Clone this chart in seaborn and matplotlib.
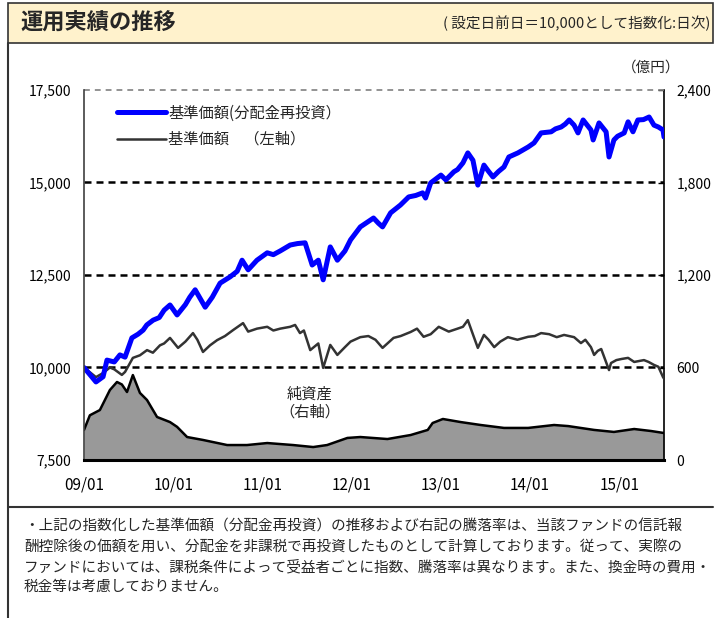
import matplotlib
matplotlib.use("Agg")
import matplotlib.pyplot as plt
import matplotlib.dates as mdates
from matplotlib.patches import Rectangle
from matplotlib.lines import Line2D
from matplotlib.ticker import FuncFormatter
import pandas as pd
import seaborn as sns

sns.set_theme(style="white")
plt.rcParams['font.family'] = ['Noto Sans CJK JP', 'DejaVu Sans']

# 基準価額(分配金再投資) - index, left axis
reinv_dates = [
    '2009-01-01', '2009-02-19', '2009-03-20', '2009-04-05', '2009-05-05', '2009-05-28',
    '2009-06-18', '2009-07-16', '2009-08-10', '2009-08-31', '2009-09-15', '2009-10-11',
    '2009-11-05', '2009-11-25', '2009-12-19', '2010-01-17', '2010-02-20', '2010-03-10',
    '2010-04-01', '2010-05-12', '2010-06-10', '2010-07-12', '2010-08-22', '2010-09-20',
    '2010-10-10', '2010-11-04', '2010-12-10', '2011-01-21', '2011-02-15', '2011-03-15',
    '2011-04-25', '2011-05-25', '2011-06-25', '2011-07-24', '2011-08-18', '2011-09-07',
    '2011-10-06', '2011-11-04', '2011-12-05', '2011-12-28', '2012-02-06', '2012-03-31',
    '2012-04-20', '2012-05-07', '2012-06-09', '2012-07-19', '2012-08-22', '2012-09-20',
    '2012-10-18', '2012-10-30', '2012-11-20', '2013-01-01', '2013-01-21', '2013-02-23',
    '2013-03-10', '2013-04-01', '2013-04-21', '2013-05-12', '2013-06-01', '2013-06-26',
    '2013-07-15', '2013-08-02', '2013-08-25', '2013-09-16', '2013-10-06', '2013-11-12',
    '2013-12-24', '2014-01-17', '2014-02-15', '2014-03-28', '2014-04-15', '2014-05-08',
    '2014-05-25', '2014-06-10', '2014-06-30', '2014-07-16', '2014-08-06', '2014-09-07',
    '2014-09-16', '2014-10-10', '2014-11-08', '2014-11-20', '2014-12-10', '2014-12-25',
    '2015-01-21', '2015-02-06', '2015-02-26', '2015-03-18', '2015-04-10', '2015-05-03',
    '2015-05-23', '2015-06-10', '2015-06-29', '2015-07-03',
]
reinv_values = [
    10000, 9610, 9750, 10200, 10150, 10340,
    10280, 10800, 10900, 11010, 11150, 11280,
    11350, 11550, 11690, 11420, 11700, 11900,
    12100, 11630, 11900, 12280, 12450, 12600,
    12900, 12640, 12900, 13100, 13050, 13150,
    13310, 13350, 13370, 12770, 12900, 12370,
    13260, 12900, 13150, 13450, 13800, 14040,
    13900, 13800, 14180, 14390, 14610, 14650,
    14720, 14580, 14990, 15200, 15070, 15290,
    15350, 15530, 15800, 15600, 14930, 15470,
    15300, 15150, 15300, 15420, 15690, 15800,
    15960, 16070, 16340, 16370, 16450, 16500,
    16580, 16690, 16550, 16340, 16690, 16420,
    16150, 16610, 16370, 15690, 16150, 16250,
    16340, 16640, 16370, 16690, 16700, 16770,
    16550, 16500, 16420, 16230,
]

# 基準価額 - index, left axis
nav_dates = [
    '2009-01-01', '2009-02-19', '2009-03-20', '2009-04-17', '2009-05-05', '2009-06-05',
    '2009-06-18', '2009-07-20', '2009-08-18', '2009-09-16', '2009-10-10', '2009-11-08',
    '2009-11-25', '2009-12-19', '2010-01-21', '2010-02-20', '2010-03-23', '2010-04-10',
    '2010-05-03', '2010-06-01', '2010-06-30', '2010-08-01', '2010-09-03', '2010-10-14',
    '2010-11-04', '2010-12-10', '2011-01-21', '2011-02-15', '2011-03-15', '2011-04-25',
    '2011-05-15', '2011-06-04', '2011-06-20', '2011-07-16', '2011-08-18', '2011-09-07',
    '2011-10-06', '2011-11-04', '2011-12-05', '2011-12-28', '2012-02-06', '2012-03-10',
    '2012-04-08', '2012-05-07', '2012-06-21', '2012-07-20', '2012-08-30', '2012-09-25',
    '2012-10-22', '2012-11-20', '2012-12-23', '2013-02-02', '2013-03-10', '2013-04-01',
    '2013-04-21', '2013-05-16', '2013-06-01', '2013-06-26', '2013-07-15', '2013-08-07',
    '2013-09-01', '2013-10-02', '2013-11-10', '2013-12-24', '2014-01-20', '2014-02-15',
    '2014-03-20', '2014-04-20', '2014-05-20', '2014-06-30', '2014-07-28', '2014-08-15',
    '2014-09-07', '2014-09-20', '2014-10-05', '2014-10-19', '2014-11-20', '2014-11-28',
    '2014-12-20', '2015-01-10', '2015-02-06', '2015-03-03', '2015-04-12', '2015-05-01',
    '2015-05-23', '2015-06-10', '2015-06-29', '2015-07-03',
]
nav_values = [
    10000, 9740, 9850, 10000, 9950, 9800,
    9880, 10260, 10330, 10470, 10400, 10600,
    10650, 10800, 10530, 10700, 10930, 10750,
    10420, 10600, 10740, 10850, 11010, 11200,
    10970, 11050, 11100, 11000, 11050, 11100,
    11150, 10930, 11000, 10470, 10650, 9990,
    10610, 10340, 10550, 10700, 10820, 10850,
    10750, 10530, 10800, 10850, 10960, 11050,
    10830, 10900, 11100, 10970, 11050, 11100,
    11280, 10820, 10530, 10880, 10750, 10550,
    10700, 10820, 10750, 10830, 10850, 10930,
    10900, 10820, 10880, 10820, 10660, 10750,
    10550, 10340, 10450, 10500, 9930, 10120,
    10200, 10230, 10260, 10150, 10200, 10150,
    10070, 10020, 9740, 9700,
]

# 純資産 (億円) - right axis
asset_dates = [
    '2009-01-01', '2009-01-25', '2009-03-07', '2009-04-17', '2009-05-16', '2009-06-05',
    '2009-06-26', '2009-07-20', '2009-08-18', '2009-09-16', '2009-10-27', '2009-12-19',
    '2010-01-17', '2010-02-27', '2010-05-03', '2010-08-10', '2010-10-30', '2011-01-21',
    '2011-05-07', '2011-07-28', '2011-09-23', '2011-12-15', '2012-02-06', '2012-05-27',
    '2012-08-30', '2012-11-08', '2012-11-28', '2013-01-09', '2013-03-23', '2013-06-13',
    '2013-09-16', '2013-12-24', '2014-04-09', '2014-06-06', '2014-09-20', '2014-12-10',
    '2015-03-03', '2015-05-11', '2015-07-03',
]
asset_values = [
    195, 290, 324, 454, 506, 490,
    441, 551, 435, 389, 279, 246,
    215, 149, 130, 97, 97, 110,
    97, 84, 97, 143, 149, 136,
    162, 195, 240, 266, 246, 227,
    208, 208, 227, 220, 195, 182,
    201, 188, 175,
]

left_ticks = [7500, 10000, 12500, 15000, 17500]
right_ticks = [0, 600, 1200, 1800, 2400]

note_lines = [
    '・上記の指数化した基準価額（分配金再投資）の推移および右記の騰落率は、当該ファンドの信託報',
    '酬控除後の価額を用い、分配金を非課税で再投資したものとして計算しております。従って、実際の',
    'ファンドにおいては、課税条件によって受益者ごとに指数、騰落率は異なります。また、換金時の費用・',
    '税金等は考慮しておりません。',
]

df_reinv = pd.DataFrame({'date': pd.to_datetime(reinv_dates), 'value': reinv_values})
df_nav = pd.DataFrame({'date': pd.to_datetime(nav_dates), 'value': nav_values})
df_asset = pd.DataFrame({'date': pd.to_datetime(asset_dates), 'value': asset_values})

W, H = 715, 618
fig = plt.figure(figsize=(W / 100, H / 100), dpi=100)
fig.patch.set_facecolor('white')

ax = fig.add_axes([84 / W, 1 - 460 / H, 580 / W, 370 / H])
ax2 = ax.twinx()
ax.set_zorder(ax2.get_zorder() + 1)
ax.patch.set_visible(False)

# net assets area (right axis)
ax2.fill_between(df_asset['date'], 0, df_asset['value'], color='#999999', lw=0)
sns.lineplot(data=df_asset, x='date', y='value', ax=ax2, color='black', linewidth=1.8, legend=False)

# grid lines
for v in [10000, 12500, 15000]:
    ax.axhline(v, color='black', lw=1.8, dashes=(2.8, 2.0), zorder=1)
ax.axhline(17500, color='#808080', lw=1.2, dashes=(3.5, 3.0), zorder=1, clip_on=False)

# index lines (left axis)
sns.lineplot(data=df_nav, x='date', y='value', ax=ax, color='#333333', linewidth=1.8,
             label='基準価額　（左軸）')
sns.lineplot(data=df_reinv, x='date', y='value', ax=ax, color='#0000FF', linewidth=3.6,
             label='基準価額(分配金再投資）', solid_capstyle='round')

h, l = ax.get_legend_handles_labels()
ax.legend(h[::-1], l[::-1], loc='upper left', bbox_to_anchor=(0.057, 0.96), frameon=False,
          fontsize=11, handlelength=3.2, handletextpad=0.15, labelspacing=0.6,
          borderaxespad=0, borderpad=0)

# axes styling
ax.set_xlim(pd.Timestamp('2009-01-01'), pd.Timestamp('2015-07-03'))
ax.set_ylim(7500, 17500)
ax.set_yticks(left_ticks)
ax.yaxis.set_major_formatter(FuncFormatter(lambda v, p: f'{v:,.0f}'))
ax2.set_ylim(0, 2400)
ax2.set_yticks(right_ticks)
ax2.yaxis.set_major_formatter(FuncFormatter(lambda v, p: f'{v:,.0f}'))

ax.xaxis.set_major_locator(mdates.YearLocator())
ax.xaxis.set_major_formatter(mdates.DateFormatter('%y/%m'))
ax.set_xlabel('')
ax.set_ylabel('')
ax2.set_xlabel('')
ax2.set_ylabel('')

ax.tick_params(axis='y', length=0, pad=9, labelsize=10, colors='black')
ax.tick_params(axis='x', direction='in', length=4, width=1, color='#333333', pad=12,
               labelsize=11, labelcolor='black')
ax2.tick_params(axis='y', direction='in', length=4, width=1, color='black', pad=9,
                labelsize=10, labelcolor='black')

for s in ['top', 'right']:
    ax.spines[s].set_visible(False)
ax.spines['left'].set_color('#404040')
ax.spines['left'].set_linewidth(1.2)
ax.spines['bottom'].set_color('black')
ax.spines['bottom'].set_linewidth(2.2)
for s in ['top', 'left', 'bottom']:
    ax2.spines[s].set_visible(False)
ax2.spines['right'].set_color('black')
ax2.spines['right'].set_linewidth(1.2)

# frame and header
fig.add_artist(Rectangle((8 / W, 1 - 43 / H), 705 / W, 40 / H, transform=fig.transFigure,
                         facecolor='#FFF2CC', edgecolor='#333333', lw=1.2))
fig.add_artist(Line2D([8 / W, 8 / W], [0, 1 - 43 / H], transform=fig.transFigure,
                      color='#333333', lw=1.5))
fig.add_artist(Line2D([8 / W, 713 / W], [1 - 507 / H, 1 - 507 / H], transform=fig.transFigure,
                      color='#333333', lw=1.5))

fig.text(20 / W, 1 - 23 / H, '運用実績の推移', fontsize=16, fontweight='bold', va='center')
fig.text(710 / W, 1 - 23 / H, '( 設定日前日＝10,000として指数化:日次)', fontsize=10.5,
         ha='right', va='center')
fig.text(651 / W, 1 - 68 / H, '（億円）', fontsize=10.5, ha='center', va='center')
fig.text(310 / W, 1 - 394 / H, '純資産', fontsize=11, ha='center', va='center')
fig.text(310 / W, 1 - 412 / H, '（右軸）', fontsize=11, ha='center', va='center')

for i, line in enumerate(note_lines):
    fig.text(24 / W, 1 - (527 + 20 * i) / H, line, fontsize=10.5, va='center')

fig.savefig('out.png', dpi=100)
